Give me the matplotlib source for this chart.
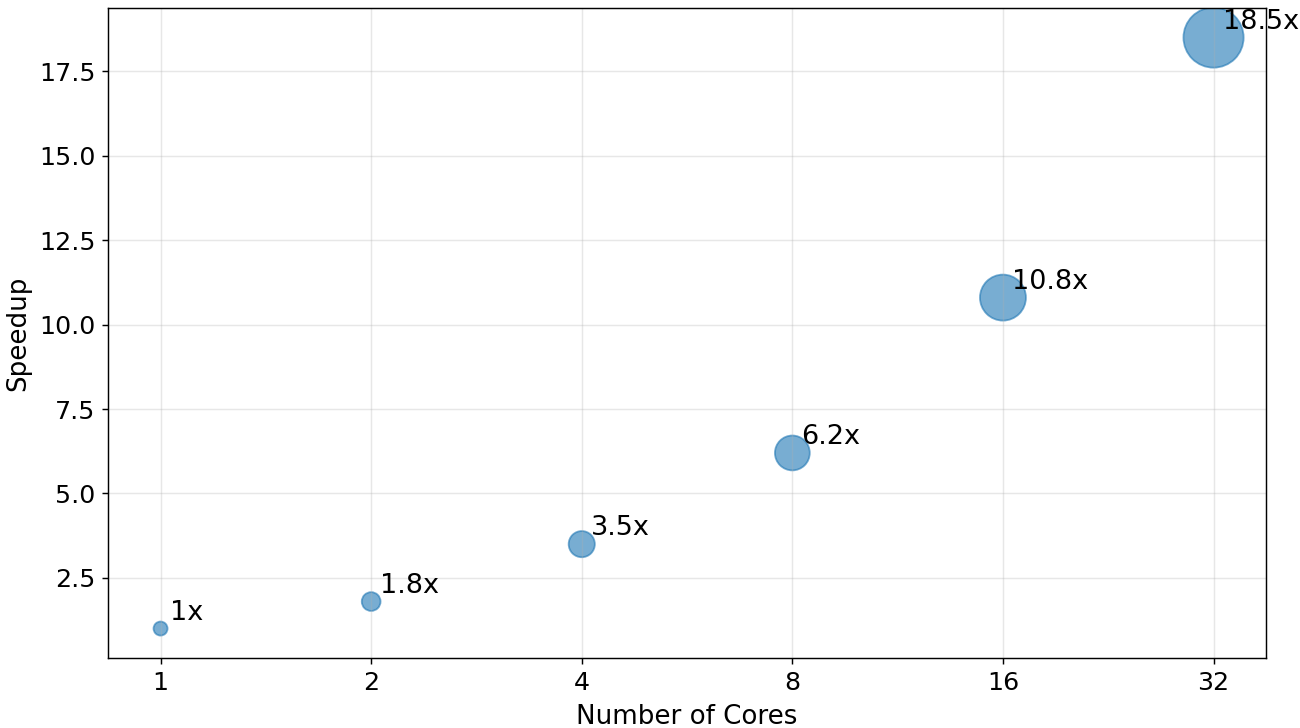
import matplotlib.pyplot as plt

# Data
cores = [1, 2, 4, 8, 16, 32]
speedup = [1, 1.8, 3.5, 6.2, 10.8, 18.5]
labels = ['1x', '1.8x', '3.5x', '6.2x', '10.8x', '18.5x']

fig, ax = plt.subplots(figsize=(10, 5.6), dpi=130)
fig.subplots_adjust(left=0.083, right=0.974, bottom=0.096, top=0.989)

# Bubble size grows with speedup
sizes = [s * 60 for s in speedup]
ax.scatter(cores, speedup, s=sizes, color='#1f77b4', alpha=0.6)

for c, s, lab in zip(cores, speedup, labels):
    ax.annotate(lab, (c, s), xytext=(5, 5), textcoords='offset points', fontsize=15)

ax.set_xscale('log', base=2)
ax.set_xticks(cores)
ax.set_xticklabels([str(c) for c in cores])
ax.minorticks_off()
ax.tick_params(labelsize=14)
ax.set_xlabel('Number of Cores', fontsize=14.5, labelpad=5)
ax.set_ylabel('Speedup', fontsize=14.5)
ax.grid(True, alpha=0.3)

plt.savefig('out.png')
